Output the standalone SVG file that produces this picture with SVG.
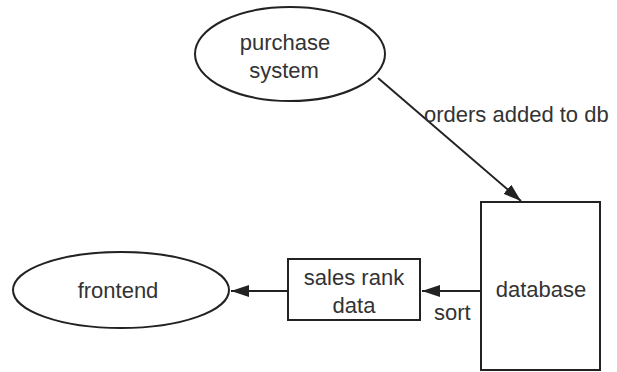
<svg xmlns="http://www.w3.org/2000/svg" width="617" height="372" viewBox="0 0 617 372">
<defs>
<style>
.shape{fill:#fff;stroke:#222;stroke-width:2}
.conn{stroke:#222;stroke-width:2;fill:none}
text{font-family:"Liberation Sans",Arial,sans-serif;font-size:22px;fill:#333}
.c{text-anchor:middle}
</style>
<marker id="arr" markerUnits="userSpaceOnUse" markerWidth="18" markerHeight="12" refX="18" refY="6" orient="auto">
<path d="M0,0 L18,6 L0,12 z" fill="#222"/>
</marker>
</defs>
<rect width="617" height="372" fill="#fff"/>
<g id="connectors">
<line class="conn" x1="378" y1="78" x2="521" y2="201" marker-end="url(#arr)"/>
<line class="conn" x1="481" y1="291" x2="422" y2="291" marker-end="url(#arr)"/>
<line class="conn" x1="288" y1="291" x2="231" y2="291" marker-end="url(#arr)"/>
<text x="424" y="122">orders added to db</text>
<text x="434" y="320">sort</text>
</g>
<g id="purchase-system">
<ellipse class="shape" cx="290" cy="54" rx="95" ry="47"/>
<text class="c" x="285" y="50">purchase</text>
<text class="c" x="284" y="78">system</text>
</g>
<g id="database">
<rect class="shape" x="481" y="202" width="119" height="168"/>
<text class="c" x="541" y="297">database</text>
</g>
<g id="sales-rank-data">
<rect class="shape" x="288" y="259" width="132" height="61"/>
<text class="c" x="354" y="285">sales rank</text>
<text class="c" x="354" y="313">data</text>
</g>
<g id="frontend">
<ellipse class="shape" cx="121" cy="290" rx="108" ry="38"/>
<text class="c" x="118" y="298">frontend</text>
</g>
</svg>
